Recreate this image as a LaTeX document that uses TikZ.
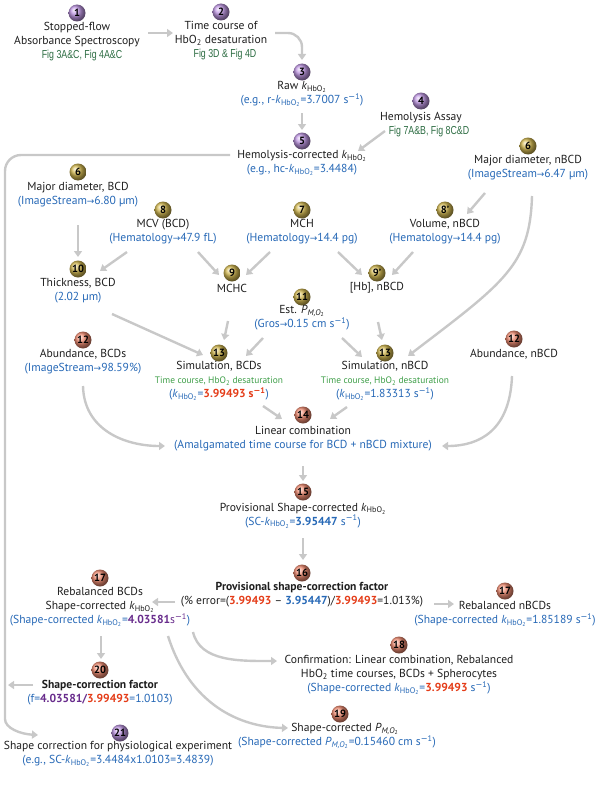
\documentclass[tikz,border=0pt]{standalone}
\usepackage{fontspec}
\setmainfont{PT Sans}
\newfontfamily\symf{DejaVu Sans}
\newfontfamily\figf[FakeStretch=0.76]{Liberation Sans}
\usetikzlibrary{arrows.meta,calc}
\definecolor{blu}{RGB}{38,104,182}
\definecolor{grn}{RGB}{44,108,66}
\definecolor{grnb}{RGB}{62,158,72}
\definecolor{redc}{RGB}{228,60,24}
\definecolor{pur}{RGB}{104,44,140}
\definecolor{ink}{RGB}{30,30,30}
\definecolor{ballP}{RGB}{192,152,228}
\definecolor{ballG}{RGB}{212,186,82}
\definecolor{ballO}{RGB}{242,142,116}
\definecolor{lin}{RGB}{200,200,200}
\newcommand{\mfs}{\fontsize{11.6}{14}\selectfont}
\newcommand{\kk}{\textit{k}\textsubscript{HbO\textsubscript{2}}}
\newcommand{\PMo}{\textit{P}\textsubscript{\textit{M,O}\textsubscript{2}}}
\newcommand{\smo}{s\textsuperscript{{\symf −}1}}
\newcommand{\rarr}{{\symf\small →}}
\newcommand{\figl}[1]{{\figf\color{grn}#1}}
\newcommand{\tcl}{{\fontsize{9.4}{14}\selectfont\color{grnb}Time course, HbO\textsubscript{2} desaturation}}
\begin{document}
\begin{tikzpicture}[x=1pt,y=-1pt,
  badge/.style={circle, inner sep=0pt, minimum size=17pt, font=\fontsize{10.5}{10.5}\selectfont\bfseries, text=black},
  bP/.style={badge, ball color=ballP},
  bG/.style={badge, ball color=ballG},
  bO/.style={badge, ball color=ballO},
  lbl/.style={align=center, inner sep=0pt, font=\mfs, text=ink},
  conn/.style={draw=lin, line width=2.4pt, -{Triangle[length=6pt,width=8pt]}}
]
\useasboundingbox (0,0) rectangle (596,800);

% ---- badges
\node[bP] (b1) at (77,13) {1};
\node[bP] (b2) at (221,12) {2};
\node[bP] (b3) at (302,72) {3};
\node[bP] (b4) at (421,101) {4};
\node[bP] (b5) at (302,141) {5};
\node[bG] (b6R) at (528,146) {6};
\node[bG] (b6L) at (78,172) {6};
\node[bG] (b8) at (163,210) {8};
\node[bG] (b7) at (302,210) {7};
\node[bG] (b8p) at (445,210) {8'};
\node[bG] (b10) at (78,269) {10};
\node[bG] (b9) at (232,273) {9};
\node[bG] (b9p) at (377,273) {9'};
\node[bG] (b11) at (302,297) {11};
\node[bO] (b12L) at (83,340) {12};
\node[bG] (b13L) at (219,353) {13};
\node[bG] (b13R) at (385,353) {13};
\node[bO] (b12R) at (514,339) {12};
\node[bO] (b14) at (303,415) {14};
\node[bO] (b15) at (303,492) {15};
\node[bO] (b16) at (302,573) {16};
\node[bO] (b17L) at (100,578) {17};
\node[bO] (b17R) at (505,591) {17};
\node[bO] (b18) at (399,645) {18};
\node[bO] (b20) at (100,670) {20};
\node[bO] (b19) at (340,714) {19};
\node[bP] (b21) at (120,733) {21};

% ---- labels
\node[lbl] (t1) at (77,42) {Stopped-flow\\Absorbance Spectroscopy\\\hspace*{10pt}\figl{Fig 3A\&C, Fig 4A\&C}};
\node[lbl] (t2) at (221,41) {Time course of\\HbO\textsubscript{2} desaturation\\\hspace*{8pt}\figl{Fig 3D \& Fig 4D}};
\node[lbl] (t3) at (302,94) {Raw \kk\\{\color{blu}(e.g., r-\kk=3.7007 \smo)}};
\node[lbl] (t4) at (421,124.5) {Hemolysis Assay\\\hspace*{16pt}\figl{Fig 7A\&B, Fig 8C\&D}};
\node[lbl] (t5) at (302,163) {Hemolysis-corrected \kk\\{\color{blu}(e.g., hc-\kk=3.4484)}};
\node[lbl] (t6R) at (528,168) {Major diameter, nBCD\\{\color{blu}(ImageStream\rarr6.47 µm)}};
\node[lbl] (t6L) at (78,195) {Major diameter, BCD\\{\color{blu}(ImageStream\rarr6.80 µm)}};
\node[lbl] (t8) at (163,231.5) {MCV (BCD)\\{\color{blu}(Hematology\rarr47.9 fL)}};
\node[lbl] (t7) at (302,231.5) {MCH\\{\color{blu}(Hematology\rarr14.4 pg)}};
\node[lbl] (t8p) at (445,231.5) {Volume, nBCD\\{\color{blu}(Hematology\rarr14.4 pg)}};
\node[lbl] (t10) at (78,291) {Thickness, BCD\\{\color{blu}(2.02 µm)}};
\node[lbl] (t9) at (232,288) {MCHC};
\node[lbl] (t9p) at (377,288) {[Hb], nBCD};
\node[lbl] (t11) at (302,318) {Est. \PMo\\{\color{blu}(Gros\rarr0.15 cm \smo)}};
\node[lbl] (t12L) at (83,362) {Abundance, BCDs\\{\color{blu}(ImageStream\rarr98.59\%)}};
\node[lbl] (t13L) at (219,381) {Simulation, BCDs\\\tcl\\{\color{blu}(\kk=}{\color{redc}\bfseries 3.99493 \smo}{\color{blu})}};
\node[lbl] (t13R) at (385,381) {Simulation, nBCD\\\tcl\\{\color{blu}(\kk=1.83313 \smo)}};
\node[lbl] (t12R) at (514,354) {Abundance, nBCD};
\node[lbl] (t14) at (303,439) {Linear combination\\{\color{blu}(Amalgamated time course for BCD + nBCD mixture)}};
\node[lbl] (t15) at (303,515.5) {Provisional Shape-corrected \kk\\{\color{blu}(SC-\kk=\textbf{3.95447} \smo)}};
\node[lbl] (t16) at (302,595) {\textbf{Provisional shape-correction factor}\\(\% error=({\color{redc}\bfseries 3.99493} – {\color{blu}\bfseries 3.95447})/{\color{redc}\bfseries 3.99493}=1.013\%)};
\node[lbl] (t17L) at (100,607) {Rebalanced BCDs\\Shape-corrected \kk\\{\color{blu}(Shape-corrected \kk=}{\color{pur}\bfseries 4.03581}{\color{pur} \smo}{\color{blu})}};
\node[lbl] (t17R) at (505,614) {Rebalanced nBCDs\\{\color{blu}(Shape-corrected \kk=1.85189 \smo)}};
\node[lbl] (t18) at (399,675) {Confirmation: Linear combination, Rebalanced\\HbO\textsubscript{2} time courses, BCDs + Spherocytes\\{\color{blu}(Shape-corrected \kk=}{\color{redc}\bfseries 3.99493} {\color{blu}\smo)}};
\node[lbl] (t20) at (100,693) {\textbf{Shape-correction factor}\\{\color{blu}(f=}{\color{pur}\bfseries 4.03581/}{\color{redc}\bfseries 3.99493}{\color{blu}=1.0103)}};
\node[lbl] (t19) at (337,736) {\hspace*{16pt}Shape-corrected \PMo\\{\color{blu}(Shape-corrected \PMo=0.15460 cm \smo)}};
\node[lbl] (t21) at (118,754) {Shape correction for physiological experiment\\{\color{blu}(e.g., SC-\kk=3.4484x1.0103=3.4839)}};

% ---- connectors
\draw[conn] ($(b1)+(71,20)$) -- ($(b2)+(-48,21)$);
\draw[conn, rounded corners=14pt] ($(b2)+(54,21)$) -| ($(b3)+(0,-12)$);
\draw[conn] ($(b3)+(0,41)$) -- ($(b3)+(0,58)$);
\draw[conn] ($(b4)+(-36,30)$) -- ($(b5)+(56,10)$);
\draw[conn, rounded corners=16pt] ($(b5)+(-72,14)$) -| ($(b21)+(-115,-30)$) .. controls (5,728) and (20,734) .. ($(b21)+(-82,2)$);
\draw[conn] ($(b20)+(-67,15)$) -- ($(b20)+(-92,15)$);
\draw[conn] ($(b6R)+(-43,47)$) -- ($(b8p)+(22,4)$);
\draw[conn] ($(b6R)+(4,50)$) .. controls (530,265) and (505,282) .. ($(b13R)+(23,3)$);
\draw[conn] ($(b6L)+(0,53)$) -- ($(b10)+(0,-12)$);
\draw[conn] ($(b8)+(-36,42)$) -- ($(b10)+(22,2)$);
\draw[conn] ($(b8)+(35,42)$) -- ($(b9)+(-13,2)$);
\draw[conn] ($(b7)+(-32,42)$) -- ($(b9)+(14,2)$);
\draw[conn] ($(b7)+(36,42)$) -- ($(b9p)+(-15,2)$);
\draw[conn] ($(b8p)+(-32,42)$) -- ($(b9p)+(15,2)$);
\draw[conn] ($(b10)+(34,45)$) -- ($(b13L)+(-16,2)$);
\draw[conn] ($(b9)+(-4,48)$) -- ($(b13L)+(5,-13)$);
\draw[conn] ($(b11)+(-39,41)$) -- ($(b13L)+(27,3)$);
\draw[conn] ($(b11)+(40,41)$) -- ($(b13R)+(-23,4)$);
\draw[conn] ($(b9p)+(1,49)$) -- ($(b13R)+(-3,-13)$);
\draw[conn] ($(b13L)+(44,53)$) -- ($(b14)+(-21,4)$);
\draw[conn] ($(b13R)+(-38,54)$) -- ($(b14)+(27,4)$);
\draw[conn] ($(b12L)+(0,46)$) .. controls (84,430) and (125,446) .. ($(b14)+(-138,31)$);
\draw[conn] ($(b12R)+(-2,37)$) .. controls (510,430) and (480,446) .. ($(b14)+(139,31)$);
\draw[conn] ($(b14)+(0,51)$) -- ($(b15)+(0,-11)$);
\draw[conn] ($(b15)+(0,46)$) -- ($(b16)+(1,-13)$);
\draw[conn] ($(b16)+(-127,29)$) -- ($(b17L)+(52,24)$);
\draw[conn] ($(b16)+(132,31)$) -- ($(b17R)+(-51,13)$);
\draw[conn] ($(b17L)+(93,54)$) .. controls (200,662) and (240,661) .. ($(b18)+(-122,16)$);
\draw[conn] ($(b17L)+(1,58)$) -- ($(b20)+(1,-11)$);
\draw[conn] ($(b17L)+(68,58)$) .. controls (190,705) and (240,727) .. ($(b19)+(-52,14)$);
\end{tikzpicture}
\end{document}
